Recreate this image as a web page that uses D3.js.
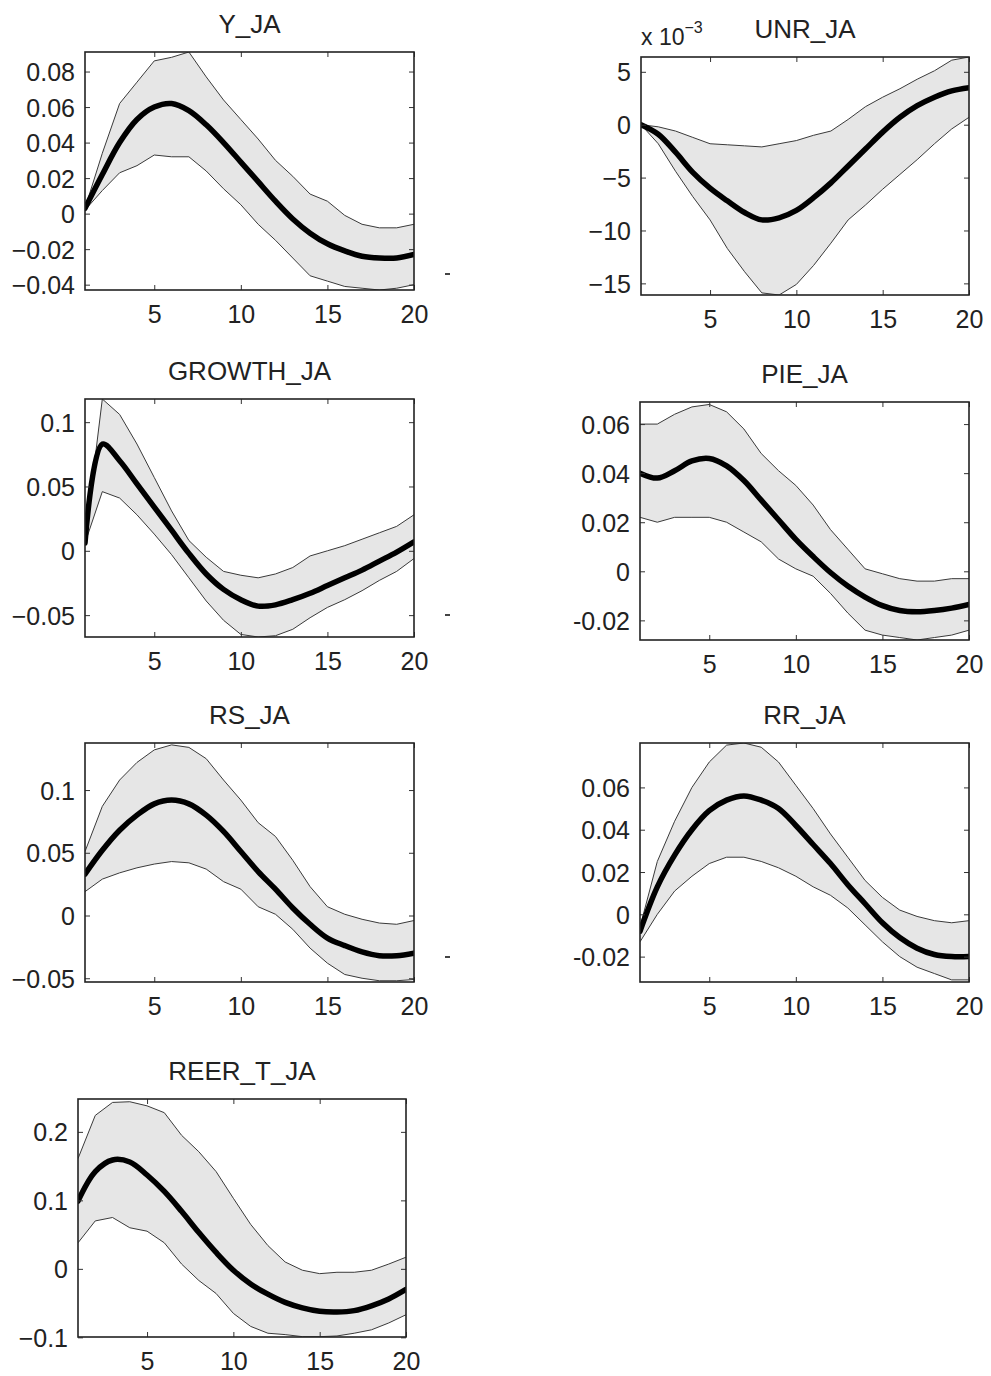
<!DOCTYPE html>
<html>
<head>
<meta charset="utf-8">
<script src="https://cdn.jsdelivr.net/npm/d3@7"></script>
<style>
  body { margin: 0; background: #fff; }
  svg text { font-family: "Liberation Sans", Arial, Helvetica, sans-serif; fill: #222; }
</style>
</head>
<body>
<div id="chart"></div>
<script>
// horizon 1..20
const horizon = d3.range(1, 21);
const xTicks = [5, 10, 15, 20];

// Y_JA
const yjaMed = [0.003, 0.022, 0.040, 0.053, 0.060, 0.062, 0.058, 0.050, 0.040, 0.029, 0.018, 0.007, -0.003, -0.011, -0.017, -0.021, -0.024, -0.025, -0.025, -0.023];
const yjaHi = [0.003, 0.034, 0.062, 0.074, 0.086, 0.088, 0.091, 0.077, 0.064, 0.053, 0.042, 0.030, 0.021, 0.011, 0.007, -0.001, -0.006, -0.008, -0.008, -0.006];
const yjaLo = [0.002, 0.013, 0.023, 0.027, 0.033, 0.032, 0.032, 0.024, 0.014, 0.005, -0.006, -0.015, -0.025, -0.035, -0.038, -0.041, -0.042, -0.043, -0.042, -0.040];
const yjaTicks = [-0.04, -0.02, 0, 0.02, 0.04, 0.06, 0.08];

// UNR_JA (x 10^-3)
const unrMed = [0, -0.9, -2.6, -4.5, -6.0, -7.2, -8.3, -9.0, -8.8, -8.1, -6.9, -5.5, -3.9, -2.3, -0.7, 0.7, 1.8, 2.6, 3.2, 3.5];
const unrHi = [0, -0.2, -0.6, -1.2, -1.8, -1.9, -2.0, -2.1, -1.8, -1.5, -1.0, -0.6, 0.5, 1.7, 2.6, 3.4, 4.3, 5.1, 6.1, 6.4];
const unrLo = [0, -1.8, -4.4, -6.8, -9.0, -11.7, -13.9, -15.9, -16.1, -15.1, -13.3, -11.2, -9.0, -7.6, -6.1, -4.7, -3.3, -1.8, -0.4, 0.7];
const unrTicks = [-15, -10, -5, 0, 5];

// GROWTH_JA
const growthMed = [0.006, 0.083, 0.070, 0.052, 0.034, 0.016, -0.002, -0.018, -0.030, -0.038, -0.043, -0.042, -0.038, -0.033, -0.027, -0.021, -0.015, -0.008, -0.001, 0.007];
const growthHi = [0.008, 0.118, 0.106, 0.083, 0.057, 0.031, 0.008, -0.005, -0.016, -0.019, -0.021, -0.018, -0.013, -0.004, 0.000, 0.004, 0.009, 0.014, 0.019, 0.028];
const growthLo = [0.006, 0.046, 0.041, 0.028, 0.013, -0.003, -0.021, -0.039, -0.054, -0.065, -0.067, -0.066, -0.061, -0.052, -0.044, -0.038, -0.031, -0.023, -0.016, -0.006];
const growthTicks = [-0.05, 0, 0.05, 0.1];

// PIE_JA
const pieMed = [0.040, 0.038, 0.041, 0.045, 0.046, 0.043, 0.037, 0.029, 0.021, 0.013, 0.006, -0.0005, -0.006, -0.0105, -0.014, -0.016, -0.0165, -0.016, -0.015, -0.0135];
const pieHi = [0.060, 0.060, 0.064, 0.067, 0.068, 0.065, 0.058, 0.048, 0.041, 0.035, 0.027, 0.017, 0.009, 0.001, -0.001, -0.003, -0.004, -0.004, -0.003, -0.003];
const pieLo = [0.022, 0.020, 0.022, 0.022, 0.022, 0.020, 0.016, 0.012, 0.005, 0.001, -0.002, -0.009, -0.017, -0.024, -0.026, -0.027, -0.028, -0.027, -0.026, -0.024];
const pieTicks = [-0.02, 0, 0.02, 0.04, 0.06];

// RS_JA
const rsMed = [0.033, 0.052, 0.068, 0.080, 0.089, 0.092, 0.089, 0.080, 0.067, 0.051, 0.035, 0.021, 0.006, -0.007, -0.018, -0.024, -0.029, -0.032, -0.032, -0.030];
const rsHi = [0.051, 0.087, 0.108, 0.122, 0.132, 0.136, 0.134, 0.125, 0.108, 0.092, 0.074, 0.063, 0.044, 0.023, 0.007, 0.001, -0.003, -0.006, -0.007, -0.004];
const rsLo = [0.019, 0.029, 0.034, 0.038, 0.041, 0.043, 0.042, 0.037, 0.027, 0.021, 0.007, 0.001, -0.011, -0.026, -0.038, -0.047, -0.050, -0.052, -0.052, -0.051];
const rsTicks = [-0.05, 0, 0.05, 0.1];

// RR_JA
const rrMed = [-0.008, 0.013, 0.028, 0.040, 0.049, 0.054, 0.056, 0.054, 0.050, 0.042, 0.033, 0.024, 0.014, 0.005, -0.004, -0.011, -0.016, -0.019, -0.020, -0.020];
const rrHi = [-0.006, 0.025, 0.044, 0.060, 0.072, 0.080, 0.081, 0.079, 0.072, 0.061, 0.050, 0.038, 0.027, 0.016, 0.008, 0.002, -0.001, -0.003, -0.004, -0.003];
const rrLo = [-0.013, 0.000, 0.011, 0.018, 0.024, 0.027, 0.027, 0.025, 0.022, 0.018, 0.013, 0.009, 0.003, -0.005, -0.013, -0.020, -0.025, -0.028, -0.031, -0.031];
const rrTicks = [-0.02, 0, 0.02, 0.04, 0.06];

// REER_T_JA
const reerMed = [0.099, 0.142, 0.159, 0.156, 0.137, 0.113, 0.084, 0.053, 0.024, -0.002, -0.022, -0.037, -0.049, -0.057, -0.062, -0.063, -0.061, -0.054, -0.044, -0.030];
const reerHi = [0.161, 0.224, 0.243, 0.244, 0.238, 0.228, 0.195, 0.171, 0.142, 0.103, 0.065, 0.034, 0.010, -0.002, -0.007, -0.005, -0.005, -0.002, 0.007, 0.017];
const reerLo = [0.038, 0.070, 0.075, 0.060, 0.055, 0.038, 0.007, -0.017, -0.036, -0.065, -0.084, -0.094, -0.096, -0.099, -0.099, -0.098, -0.094, -0.089, -0.079, -0.067];
const reerTicks = [-0.1, 0, 0.1, 0.2];

const MINUS = "\u2212";

// panel layout: box position, y limits, label style
const panels = [
  { title: "Y_JA", med: yjaMed, hi: yjaHi, lo: yjaLo, ticks: yjaTicks, ylim: [-0.043, 0.091], left: 85, top: 52, w: 329, h: 238, minus: MINUS, stray: [33, -16] },
  { title: "UNR_JA", med: unrMed, hi: unrHi, lo: unrLo, ticks: unrTicks, ylim: [-16.1, 6.4], left: 641, top: 57, w: 328, h: 238, minus: MINUS, exp: true },
  { title: "GROWTH_JA", med: growthMed, hi: growthHi, lo: growthLo, ticks: growthTicks, ylim: [-0.067, 0.118], left: 85, top: 399, w: 329, h: 238, minus: MINUS, stray: [33, -22] },
  { title: "PIE_JA", med: pieMed, hi: pieHi, lo: pieLo, ticks: pieTicks, ylim: [-0.028, 0.069], left: 640, top: 402, w: 329, h: 238, minus: "-" },
  { title: "RS_JA", med: rsMed, hi: rsHi, lo: rsLo, ticks: rsTicks, ylim: [-0.053, 0.1375], left: 85, top: 743, w: 329, h: 239, minus: MINUS, stray: [33, -25] },
  { title: "RR_JA", med: rrMed, hi: rrHi, lo: rrLo, ticks: rrTicks, ylim: [-0.032, 0.081], left: 640, top: 743, w: 329, h: 239, minus: "-" },
  { title: "REER_T_JA", med: reerMed, hi: reerHi, lo: reerLo, ticks: reerTicks, ylim: [-0.0995, 0.248], left: 78, top: 1099, w: 328, h: 238, minus: MINUS }
];

const svg = d3.select("#chart")
  .append("svg")
  .attr("width", 991)
  .attr("height", 1376);

panels.forEach(function(p, i) {

  const g = svg.append("g")
    .attr("transform", `translate(${p.left},${p.top})`);

  const xScale = d3.scaleLinear().domain([1, 20]).range([0, p.w]);
  const yScale = d3.scaleLinear().domain(p.ylim).range([p.h, 0]);

  const fmt = function(d) {
    return (d < 0 ? p.minus : "") + String(Math.abs(d));
  };

  g.append("clipPath")
    .attr("id", "clip" + i)
    .append("rect")
    .attr("width", p.w)
    .attr("height", p.h);

  const plot = g.append("g").attr("clip-path", `url(#clip${i})`);

  // confidence band
  const area = d3.area()
    .x(function(d, j) { return xScale(horizon[j]); })
    .y0(function(d, j) { return yScale(p.lo[j]); })
    .y1(function(d, j) { return yScale(p.hi[j]); });

  plot.append("path")
    .datum(p.med)
    .attr("d", area)
    .attr("fill", "#e6e6e6");

  const edge = d3.line()
    .x(function(d, j) { return xScale(horizon[j]); })
    .y(function(d) { return yScale(d); });

  [p.hi, p.lo].forEach(function(s) {
    plot.append("path")
      .datum(s)
      .attr("d", edge)
      .attr("fill", "none")
      .attr("stroke", "#3a3a3a")
      .attr("stroke-width", 1);
  });

  // median response
  const medLine = d3.line()
    .x(function(d, j) { return xScale(horizon[j]); })
    .y(function(d) { return yScale(d); })
    .curve(d3.curveCatmullRom.alpha(0.5));

  plot.append("path")
    .datum(p.med)
    .attr("d", medLine)
    .attr("fill", "none")
    .attr("stroke", "#000")
    .attr("stroke-width", 5.5)
    .attr("stroke-linecap", "round");

  // axes, ticks pointing inward on all four sides
  const xAxis = g.append("g")
    .attr("transform", `translate(0,${p.h})`)
    .call(d3.axisBottom(xScale).tickValues(xTicks).tickSizeInner(-5).tickSizeOuter(0).tickPadding(0));
  xAxis.selectAll("text")
    .attr("y", 15)
    .attr("dy", "0.71em")
    .style("font-size", "25px");

  const yAxis = g.append("g")
    .call(d3.axisLeft(yScale).tickValues(p.ticks).tickFormat(fmt).tickSizeInner(-5).tickSizeOuter(0).tickPadding(10));
  yAxis.selectAll("text")
    .attr("dy", "0.36em")
    .style("font-size", "25px");

  g.append("g")
    .call(d3.axisTop(xScale).tickValues(xTicks).tickSizeInner(-5).tickSizeOuter(0).tickFormat(""));
  g.append("g")
    .attr("transform", `translate(${p.w},0)`)
    .call(d3.axisRight(yScale).tickValues(p.ticks).tickSizeInner(-5).tickSizeOuter(0).tickFormat(""));

  g.selectAll(".domain").remove();
  g.selectAll(".tick line").attr("stroke", "#333").attr("stroke-width", 1);

  g.append("rect")
    .attr("width", p.w)
    .attr("height", p.h)
    .attr("fill", "none")
    .attr("stroke", "#222")
    .attr("stroke-width", 1.6);

  // title
  g.append("text")
    .attr("x", p.w / 2)
    .attr("y", -19)
    .attr("text-anchor", "middle")
    .style("font-size", "26px")
    .text(p.title);

  // exponent label
  if (p.exp) {
    const e = g.append("text")
      .attr("x", 0)
      .attr("y", -12)
      .style("font-size", "23px");
    e.append("tspan").text("x 10");
    e.append("tspan")
      .attr("dy", -12)
      .style("font-size", "16px")
      .text(MINUS + "3");
  }

  // small stray mark seen to the right of some panels
  if (p.stray) {
    g.append("rect")
      .attr("x", p.w + p.stray[0] - 2)
      .attr("y", p.h + p.stray[1] - 1)
      .attr("width", 5)
      .attr("height", 2)
      .attr("fill", "#444");
  }
});
</script>
</body>
</html>
